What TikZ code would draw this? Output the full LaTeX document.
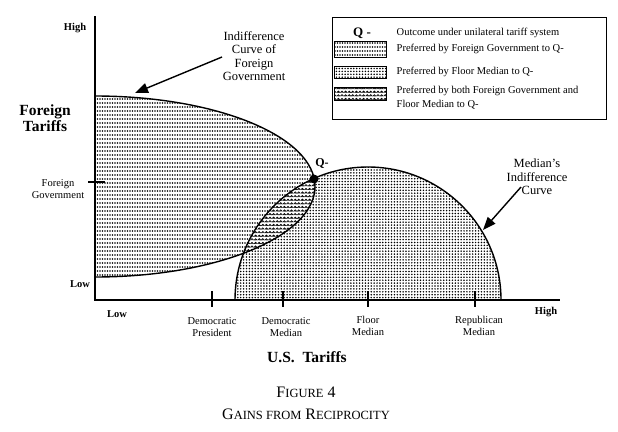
\documentclass[tikz,border=0pt]{standalone}
\usepackage{fontspec}
\setmainfont{Liberation Serif}
\usetikzlibrary{arrows.meta,patterns}

\pgfdeclarepatternformonly{fdots}{\pgfqpoint{-1pt}{-1pt}}{\pgfqpoint{1pt}{1pt}}{\pgfqpoint{2.5pt}{4pt}}{%
  \pgfpathcircle{\pgfqpoint{0pt}{0pt}}{0.8pt}\pgfusepath{fill}}
\pgfdeclarepatternformonly{mdots}{\pgfqpoint{-1pt}{-1pt}}{\pgfqpoint{1pt}{1pt}}{\pgfqpoint{2.9pt}{2.9pt}}{%
  \pgfpathcircle{\pgfqpoint{0pt}{0pt}}{0.85pt}\pgfusepath{fill}}
\pgfdeclarepatternformonly{scales}{\pgfqpoint{-2pt}{-1pt}}{\pgfqpoint{2pt}{2pt}}{\pgfqpoint{3.6pt}{3.6pt}}{%
  \pgfsetlinewidth{0.75pt}%
  \pgfpathmoveto{\pgfqpoint{-1.5pt}{0pt}}\pgfpatharc{180}{0}{1.5pt}\pgfusepath{stroke}%
  \pgfpathcircle{\pgfqpoint{0pt}{0.3pt}}{0.55pt}\pgfusepath{fill}}

\begin{document}
\begin{tikzpicture}[x=1pt,y=-1pt,line width=1.4pt,
  lab/.style={font=\fontsize{10.5}{12.5}\selectfont,align=center,inner sep=0pt},
  blab/.style={font=\bfseries\fontsize{10.5}{12}\selectfont,inner sep=0pt},
  big/.style={font=\bfseries\fontsize{15.5}{16}\selectfont,align=center,inner sep=0pt},
  ann/.style={font=\fontsize{12.5}{13.4}\selectfont,align=center,inner sep=0pt},
  leg/.style={font=\fontsize{10.5}{14}\selectfont,anchor=west,align=left,inner sep=0pt},
  tickline/.style={line width=1.1pt},
  swatch/.style={draw,line width=1pt,anchor=north west,minimum width=52pt,inner sep=0pt},
  pointer/.style={-{Triangle[length=13pt,width=10pt]},line width=1.4pt}]
\useasboundingbox (0,0) rectangle (618,431);

% filled regions
\begin{scope}
  \clip (95,0) rectangle (618,300);
  \fill[pattern=fdots] (95,186.5) ellipse [x radius=220pt, y radius=90.5pt];
\end{scope}
\begin{scope}
  \clip (0,0) rectangle (618,300);
  \fill[pattern=mdots] (368,300) circle [radius=133pt];
\end{scope}
\begin{scope}
  \clip (95,186.5) ellipse [x radius=220pt, y radius=90.5pt];
  \fill[white] (368,300) circle [radius=133pt];
  \fill[pattern=scales] (368,300) circle [radius=133pt];
\end{scope}

% outlines
\begin{scope}
  \clip (95,0) rectangle (618,431);
  \draw (95,186.5) ellipse [x radius=220pt, y radius=90.5pt];
\end{scope}
\begin{scope}
  \clip (0,0) rectangle (618,300);
  \draw (368,300) circle [radius=133pt];
\end{scope}

% axes
\coordinate (ytop) at (95,16);
\coordinate (O) at (95,300);
\coordinate (xend) at (560,300);
\draw (ytop) -- (O) -- (xend);

% ticks
\draw[tickline] (88,182) -- (105,182);
\draw[tickline] (212,291) -- (212,307);
\draw[tickline] (283,291) -- (283,307);
\draw[tickline] (368,291) -- (368,307);
\draw[tickline] (475,291) -- (475,307);

% Q point
\node[circle,fill,inner sep=0pt,minimum size=9pt] (q) at (314,179) {};
\node[font=\bfseries\fontsize{12}{13}\selectfont,inner sep=0pt] (qlab) at (322,163) {Q-};

% axis labels
\node[blab] (yhigh) at (75,28) {High};
\node[big] (ftar) at (45,118) {Foreign\\Tariffs};
\node[lab] (fgov) at (58,189) {Foreign\\Government};
\node[blab] (ylow) at (80,284) {Low};
\node[blab] (xlow) at (117,314) {Low};
\node[blab] (xhigh) at (546,312) {High};
\node[lab] (dp) at (212,327) {Democratic\\President};
\node[lab] (dm) at (286,327) {Democratic\\Median};
\node[lab] (fm) at (368,326) {Floor\\Median};
\node[lab] (rm) at (479,326) {Republican\\Median};
\node[big] (ust) at (307,357) {U.S.\ \ Tariffs};

% caption
\node[font=\fontsize{16}{18}\selectfont,inner sep=0pt] (fig) at (306,392) {F{\fontsize{12.5}{14}\selectfont IGURE} 4};
\node[font=\fontsize{16}{18}\selectfont,inner sep=0pt] (gains) at (306,414) {G{\fontsize{12.5}{14}\selectfont AINS FROM} R{\fontsize{12.5}{14}\selectfont ECIPROCITY}};

% annotations
\node[ann] (ann1) at (254,56) {Indifference\\Curve of\\Foreign\\Government};
\coordinate (a1s) at (222,57);
\coordinate (a1e) at (135,93);
\draw[pointer] (a1s) -- (a1e);
\node[ann] (ann2) at (537,177) {Median's\\Indifference\\Curve};
\coordinate (a2s) at (521,187);
\coordinate (a2e) at (483,230);
\draw[pointer] (a2s) -- (a2e);

% legend
\node[draw,line width=1pt,anchor=north west,minimum width=274pt,minimum height=102pt,inner sep=0pt] (legend) at (332,17) {};
\node[font=\bfseries\fontsize{13}{14}\selectfont,inner sep=0pt] (lq) at (362,33) {Q -};
\node[leg] (lt0) at (396,33) {Outcome under unilateral tariff system};
\node[swatch,pattern=fdots,minimum height=16pt] (sw1) at (334,41) {};
\node[leg] (lt1) at (396,49) {Preferred by Foreign Government to Q-};
\node[swatch,pattern=mdots,minimum height=12pt] (sw2) at (334,66) {};
\node[leg] (lt2) at (396,72) {Preferred by Floor Median to Q-};
\node[swatch,pattern=scales,minimum height=13pt] (sw3) at (334,87) {};
\node[leg] (lt3) at (396,98) {Preferred by both Foreign Government and\\Floor Median to Q-};
\end{tikzpicture}
\end{document}
